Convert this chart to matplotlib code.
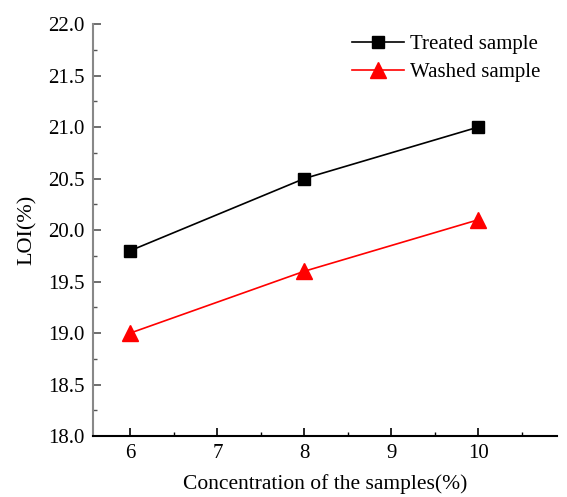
import matplotlib
matplotlib.use("Agg")
import matplotlib.pyplot as plt
from matplotlib.ticker import MultipleLocator

conc = [6, 8, 10]
treated = [19.8, 20.5, 21.0]
washed = [19.0, 19.6, 20.1]

plt.rcParams['font.family'] = ['Liberation Serif', 'DejaVu Serif']
fig = plt.figure(figsize=(5.67, 4.97), dpi=100)
ax = fig.add_axes([0.164, 0.1227, 0.818, 0.829])

ax.plot(conc, treated, color='black', marker='s', markersize=9, lw=1.2, label='Treated sample')
ax.plot(conc, washed, color='red', marker='^', markersize=11, lw=1.2, label='Washed sample')

ax.set_xlim(5.57, 10.9)
ax.set_ylim(18.0, 22.0)
ax.xaxis.set_major_locator(MultipleLocator(1))
ax.xaxis.set_minor_locator(MultipleLocator(0.5))
ax.yaxis.set_major_locator(MultipleLocator(0.5))
ax.yaxis.set_minor_locator(MultipleLocator(0.25))
ax.yaxis.set_major_formatter(matplotlib.ticker.FormatStrFormatter('%.1f'))
for s in ['top', 'right']:
    ax.spines[s].set_visible(False)
ax.spines['left'].set_color('#888888')
ax.spines['left'].set_linewidth(1.5)
ax.spines['bottom'].set_linewidth(1.5)
ax.tick_params(which='major', direction='in', length=6, width=1.2, labelsize=15, pad=6)
ax.tick_params(which='minor', direction='in', length=3, width=1.0)
ax.tick_params(axis='y', which='both', color='#555555')

ax.set_xlabel('Concentration of the samples(%)', fontsize=15.5, labelpad=8)
ax.set_ylabel('LOI(%)', fontsize=16, labelpad=8)
ax.legend(loc='upper right', frameon=False, fontsize=15, handlelength=2.5,
          handletextpad=0.3, labelspacing=0.4, bbox_to_anchor=(1.005, 1.02))

fig.savefig('out.png', dpi=100)
